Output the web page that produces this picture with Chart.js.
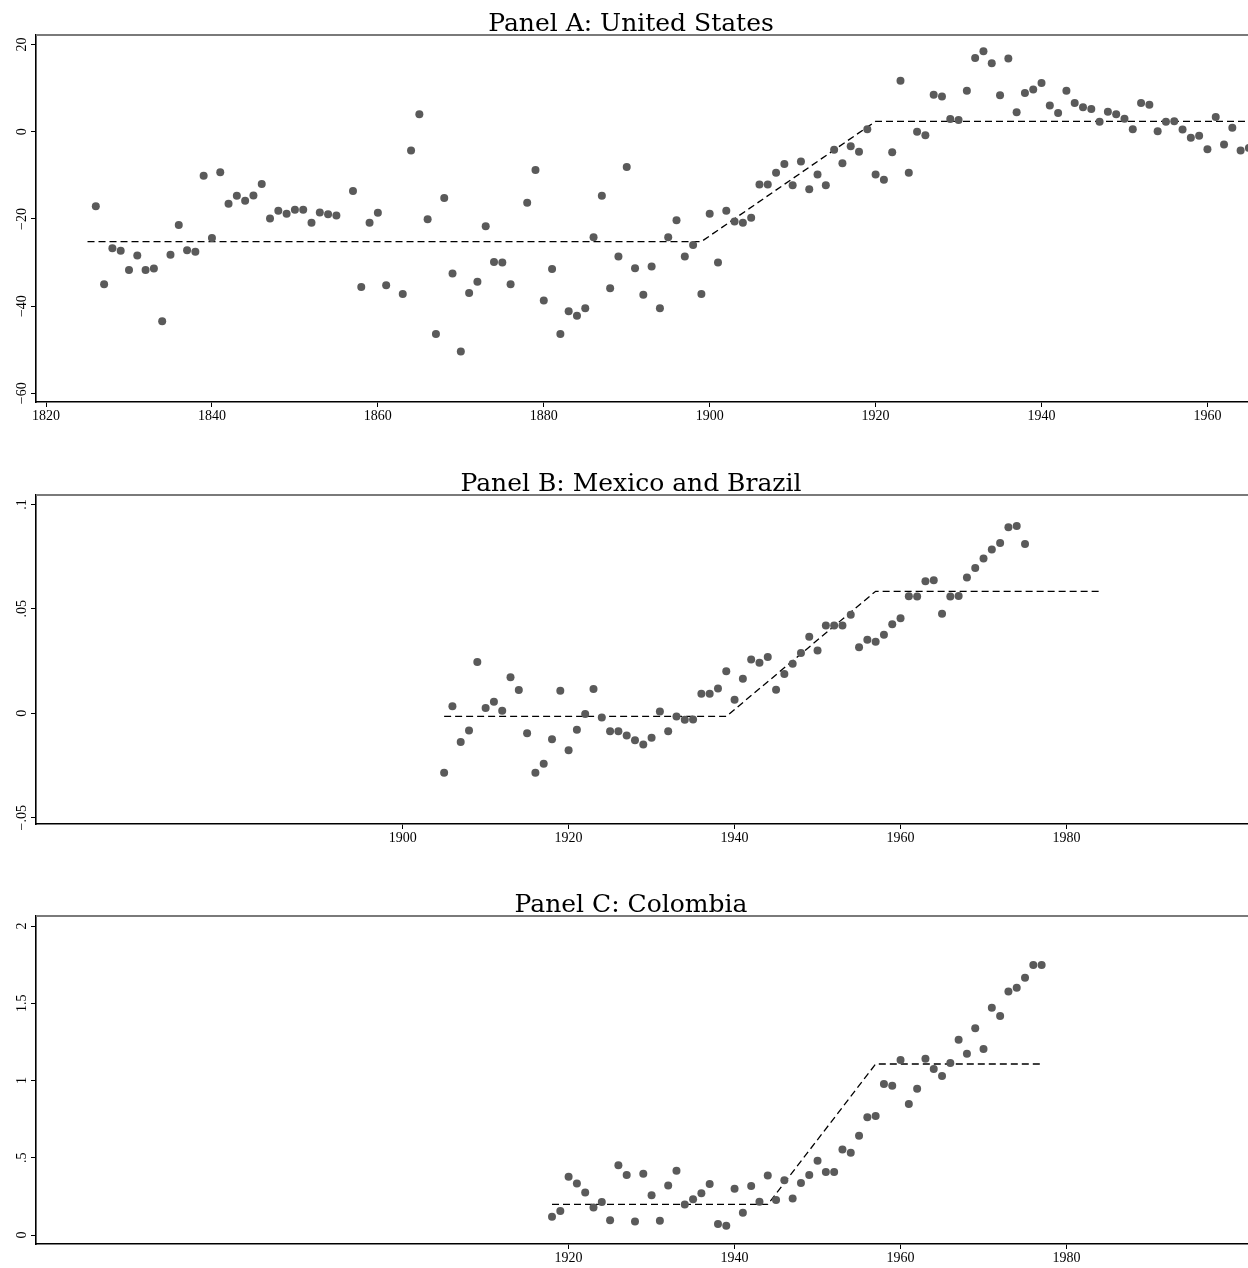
<!DOCTYPE html>
<html>
<head>
<meta charset="utf-8">
<script src="https://cdn.jsdelivr.net/npm/chart.js@4.4.1/dist/chart.umd.min.js"></script>
<style>
  html, body { margin: 0; padding: 0; background: #fff; }
  #wrap { position: relative; width: 1248px; height: 1268px; overflow: hidden; background: #fff; }
  canvas { position: absolute; left: 0; }
</style>
</head>
<body>
<div id="wrap">
  <canvas id="cA" width="1248" height="420" style="top:0px"></canvas>
  <canvas id="cB" width="1248" height="382" style="top:460px"></canvas>
  <canvas id="cC" width="1248" height="381" style="top:881px"></canvas>
</div>
<script>
// ---------------- DATA ----------------
// Panel A: United States
const titleA = "Panel A: United States";
const yearsA = [1826,1827,1828,1829,1830,1831,1832,1833,1834,1835,1836,1837,1838,1839,1840,1841,1842,1843,1844,1845,1846,1847,1848,1849,1850,1851,1852,1853,1854,1855,
  1857,1858,1859,1860,1861,1863,1864,1865,1866,1867,1868,1869,1870,1871,1872,1873,1874,1875,1876,
  1878,1879,1880,1881,1882,1883,1884,1885,1886,1887,1888,1889,1890,1891,1892,1893,1894,1895,1896,1897,1898,1899,
  1900,1901,1902,1903,1904,1905,1906,1907,1908,1909,1910,1911,1912,1913,1914,1915,1916,1917,1918,1919,
  1920,1921,1922,1923,1924,1925,1926,1927,1928,1929,1930,1931,1932,1933,1934,1935,1936,1937,1938,1939,
  1940,1941,1942,1943,1944,1945,1946,1947,1948,1949,1950,1951,1952,1953,1954,1955,1956,1957,1958,1959,
  1960,1961,1962,1963,1964,1965];
const valuesA = [-17.1,-35.0,-26.7,-27.3,-31.7,-28.4,-31.7,-31.4,-43.5,-28.2,-21.4,-27.2,-27.5,-10.1,-24.4,-9.3,-16.5,-14.7,-15.8,-14.6,-12.0,-19.9,-18.1,-18.8,-17.9,-17.9,-20.9,-18.5,-18.9,-19.2,
  -13.6,-35.6,-20.9,-18.6,-35.2,-37.2,-4.3,4.0,-20.1,-46.4,-15.2,-32.5,-50.4,-37.0,-34.4,-21.7,-29.9,-30.0,-35.0,
  -16.3,-8.8,-38.7,-31.5,-46.4,-41.2,-42.2,-40.5,-24.2,-14.7,-35.9,-28.6,-8.1,-31.3,-37.4,-30.9,-40.5,-24.2,-20.3,-28.6,-26.0,-37.2,
  -18.8,-30.0,-18.1,-20.6,-20.9,-19.7,-12.1,-12.1,-9.4,-7.4,-12.3,-6.8,-13.2,-9.8,-12.3,-4.1,-7.2,-3.3,-4.6,0.6,
  -9.8,-11.0,-4.7,11.7,-9.4,0.0,-0.8,8.5,8.1,2.9,2.7,9.4,16.9,18.5,15.7,8.4,16.8,4.5,8.9,9.7,
  11.2,6.0,4.3,9.4,6.6,5.6,5.2,2.3,4.6,4.0,3.0,0.6,6.6,6.2,0.1,2.3,2.4,0.5,-1.4,-0.9,
  -4.0,3.4,-2.9,0.9,-4.3,-3.7];
const fitYearsA = [1825, 1899, 1920, 1965];
const fitValuesA = [-25.2, -25.2, 2.4, 2.4];
const xTicksA = [1820, 1840, 1860, 1880, 1900, 1920, 1940, 1960];
const yTicksA = [-60, -40, -20, 0, 20];
const yLabelsA = ["\u221260", "\u221240", "\u221220", "0", "20"];

// Panel B: Mexico and Brazil
const titleB = "Panel B: Mexico and Brazil";
const yearsB = [1905,1906,1907,1908,1909,1910,1911,1912,1913,1914,1915,1916,1917,1918,1919,
  1920,1921,1922,1923,1924,1925,1926,1927,1928,1929,1930,1931,1932,1933,1934,1935,1936,1937,1938,1939,
  1940,1941,1942,1943,1944,1945,1946,1947,1948,1949,1950,1951,1952,1953,1954,1955,1956,1957,1958,1959,
  1960,1961,1962,1963,1964,1965,1966,1967,1968,1969,1970,1971,1972,1973,1974,1975];
const valuesB = [-0.0285,0.0034,-0.0137,-0.0082,0.0245,0.0025,0.0055,0.0012,0.0172,0.0111,-0.0095,-0.0285,-0.0241,-0.0124,0.0108,
  -0.0177,-0.0079,-0.0004,0.0116,-0.0020,-0.0086,-0.0086,-0.0106,-0.0129,-0.0149,-0.0117,0.0009,-0.0086,-0.0015,-0.0031,-0.0030,0.0094,0.0094,0.0119,0.0201,
  0.0065,0.0165,0.0258,0.0242,0.0269,0.0113,0.0188,0.0237,0.0289,0.0366,0.0300,0.0420,0.0420,0.0420,0.0472,0.0316,0.0352,0.0343,0.0376,0.0426,
  0.0455,0.0560,0.0559,0.0632,0.0637,0.0476,0.0559,0.0562,0.0650,0.0696,0.0741,0.0784,0.0815,0.0891,0.0896,0.0810];
const fitYearsB = [1905, 1939, 1957, 1984];
const fitValuesB = [-0.0015, -0.0015, 0.0584, 0.0584];
const xTicksB = [1900, 1920, 1940, 1960, 1980];
const yTicksB = [-0.05, 0, 0.05, 0.1];
const yLabelsB = ["\u2212.05", "0", ".05", ".1"];

// Panel C: Colombia
const titleC = "Panel C: Colombia";
const yearsC = [1918,1919,1920,1921,1922,1923,1924,1925,1926,1927,1928,1929,1930,1931,1932,1933,1934,1935,1936,1937,1938,1939,
  1940,1941,1942,1943,1944,1945,1946,1947,1948,1949,1950,1951,1952,1953,1954,1955,1956,1957,1958,1959,
  1960,1961,1962,1963,1964,1965,1966,1967,1968,1969,1970,1971,1972,1973,1974,1975,1976,1977];
const valuesC = [0.119,0.155,0.378,0.334,0.276,0.179,0.214,0.095,0.451,0.388,0.088,0.397,0.257,0.093,0.321,0.416,0.198,0.231,0.270,0.330,0.071,0.060,
  0.300,0.145,0.317,0.216,0.386,0.227,0.354,0.237,0.337,0.388,0.481,0.408,0.408,0.554,0.533,0.643,0.762,0.770,0.977,0.967,
  1.133,0.848,0.947,1.141,1.074,1.029,1.113,1.264,1.174,1.338,1.204,1.471,1.417,1.577,1.601,1.666,1.748,1.748];
const fitYearsC = [1918, 1944, 1957, 1977];
const fitValuesC = [0.198, 0.198, 1.107, 1.107];
const xTicksC = [1920, 1940, 1960, 1980];
const yTicksC = [0, 0.5, 1, 1.5, 2];
const yLabelsC = ["0", ".5", "1", "1.5", "2"];

// ---------------- STYLE / HELPERS ----------------
const TICK_FONT = { family: "'Liberation Serif', serif", size: 14 };
const TITLE_FONT = { family: "'DejaVu Serif', serif", size: 25, weight: 'normal', lineHeight: 1.2 };
const DOT = '#5a5a5a';
const PAD_LEFT = 14;
const PLOT_LEFT = 36;

function measureWidest(labels) {
  const c = document.createElement('canvas').getContext('2d');
  c.font = TICK_FONT.size + "px " + TICK_FONT.family;
  return Math.max(...labels.map(l => c.measureText(l).width));
}

const topBorder = {
  id: 'topBorder',
  afterDraw(chart) {
    const { ctx, chartArea: { left, right, top } } = chart;
    ctx.save();
    ctx.strokeStyle = '#7a7a7a';
    ctx.lineWidth = 2;
    ctx.beginPath();
    ctx.moveTo(left, top);
    ctx.lineTo(right, top);
    ctx.stroke();
    ctx.restore();
  }
};

function makePanel(id, title, years, values, fitYears, fitValues, xTicks, xMin, xMax, yTicks, yLabels, yMin, yMax) {
  const pts = years.map((y, i) => ({ x: y, y: values[i] }));
  const fit = fitYears.map((y, i) => ({ x: y, y: fitValues[i] }));
  const widest = measureWidest(yLabels);
  const yPad = 14 - 5 - widest / 2;
  return new Chart(document.getElementById(id), {
    type: 'scatter',
    data: {
      datasets: [
        {
          label: 'data',
          data: pts,
          pointRadius: 4,
          pointHoverRadius: 4,
          pointBackgroundColor: DOT,
          pointBorderColor: DOT,
          pointBorderWidth: 0,
          showLine: false,
          clip: false
        },
        {
          label: 'fit',
          type: 'line',
          data: fit,
          borderColor: '#000',
          borderWidth: 1.3,
          borderDash: [7, 4],
          pointRadius: 0,
          fill: false,
          tension: 0
        }
      ]
    },
    options: {
      responsive: false,
      animation: false,
      events: [],
      layout: { padding: { left: PAD_LEFT, right: 0, top: 0, bottom: 0 }, autoPadding: false },
      plugins: {
        legend: { display: false },
        tooltip: { enabled: false },
        title: {
          display: true,
          text: title,
          color: '#000',
          font: TITLE_FONT,
          padding: { top: 9, bottom: -4 }
        }
      },
      scales: {
        x: {
          type: 'linear',
          position: 'bottom',
          min: xMin,
          max: xMax,
          afterBuildTicks: (s) => { s.ticks = xTicks.map(v => ({ value: v })); },
          afterFit: (s) => { s.height = 18; },
          ticks: {
            color: '#000',
            font: TICK_FONT,
            padding: 1,
            maxRotation: 0,
            minRotation: 0,
            autoSkip: false,
            callback: (v) => String(v)
          },
          grid: { display: true, drawOnChartArea: false, drawTicks: true, tickLength: 5, tickColor: '#000', tickWidth: 1 },
          border: { display: true, color: '#000', width: 1.6 }
        },
        y: {
          type: 'linear',
          position: 'left',
          min: yMin,
          max: yMax,
          afterBuildTicks: (s) => { s.ticks = yTicks.map(v => ({ value: v })); },
          afterFit: (s) => { s.width = PLOT_LEFT - PAD_LEFT; },
          ticks: {
            color: '#000',
            font: TICK_FONT,
            padding: yPad,
            minRotation: 90,
            maxRotation: 90,
            crossAlign: 'center',
            autoSkip: false,
            callback: (v) => { const i = yTicks.indexOf(v); return i >= 0 ? yLabels[i] : ''; }
          },
          grid: { display: true, drawOnChartArea: false, drawTicks: true, tickLength: 5, tickColor: '#000', tickWidth: 1 },
          border: { display: true, color: '#000', width: 1.6 }
        }
      }
    },
    plugins: [topBorder]
  });
}

makePanel('cA', titleA, yearsA, valuesA, fitYearsA, fitValuesA, xTicksA, 1818.79, 1964.89, yTicksA, yLabelsA, -62.0, 22.2);
makePanel('cB', titleB, yearsB, valuesB, fitYearsB, fitValuesB, xTicksB, 1855.82, 2001.87, yTicksB, yLabelsB, -0.053, 0.1045);
makePanel('cC', titleC, yearsC, valuesC, fitYearsC, fitValuesC, xTicksC, 1855.82, 2001.87, yTicksC, yLabelsC, -0.058, 2.065);
</script>
</body>
</html>
